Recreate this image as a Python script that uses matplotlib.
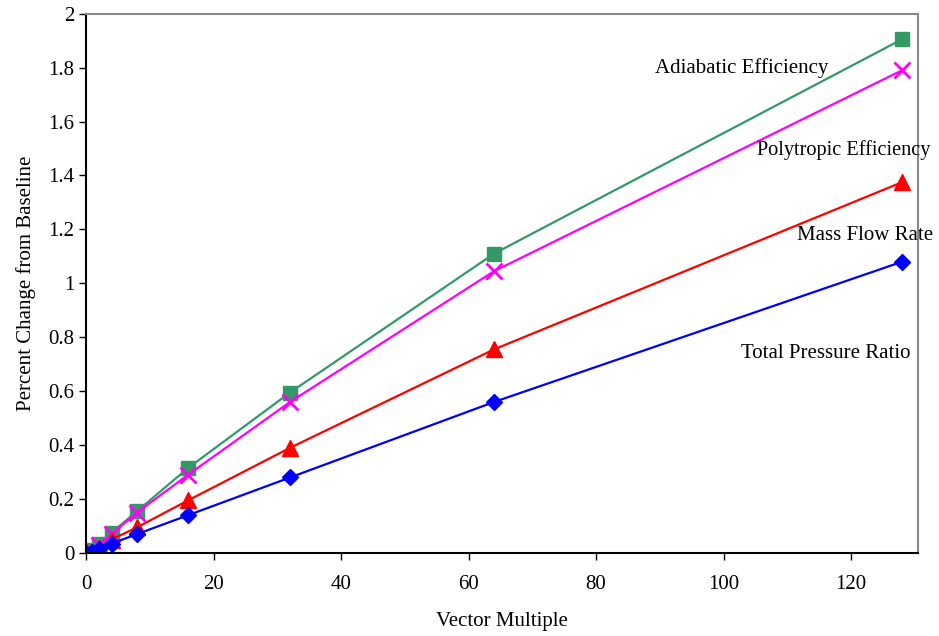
import matplotlib
matplotlib.use("Agg")
import matplotlib.pyplot as plt
from matplotlib.ticker import FuncFormatter

# vector multiples and percent change for each quantity
vector_multiple = [0, 1, 2, 4, 8, 16, 32, 64, 128]
adiabatic_eff = [0, 0.012, 0.035, 0.075, 0.155, 0.315, 0.595, 1.11, 1.905]
polytropic_eff = [0, 0.01, 0.03, 0.07, 0.15, 0.29, 0.56, 1.045, 1.79]
mass_flow = [0, 0.005, 0.02, 0.05, 0.095, 0.195, 0.39, 0.755, 1.375]
total_pressure = [0, 0.005, 0.015, 0.035, 0.07, 0.14, 0.28, 0.56, 1.08]

plt.rcParams['font.family'] = ['Liberation Serif', 'DejaVu Serif']

fig = plt.figure(figsize=(9.39, 6.36), dpi=100)
ax = fig.add_axes([0.0916, 0.1305, 0.886, 0.848])

ax.plot(vector_multiple, adiabatic_eff, color='#339966', marker='s', markersize=10, lw=1.6)
ax.plot(vector_multiple, polytropic_eff, color='#FF00FF', marker='x', markersize=12, mew=2, lw=1.6)
ax.plot(vector_multiple, mass_flow, color='#FF0000', marker='^', markersize=11, lw=1.6)
ax.plot(vector_multiple, total_pressure, color='#0000FF', marker='D', markersize=8.5, lw=1.6)

fs = 15
ax.text(102.8, 1.8, 'Adiabatic Efficiency', fontsize=fs, ha='center', va='center')
ax.text(105.2, 1.496, 'Polytropic Efficiency', fontsize=14.6, ha='left', va='center', clip_on=False)
ax.text(111.6, 1.178, 'Mass Flow Rate', fontsize=fs, ha='left', va='center', clip_on=False)
ax.text(102.7, 0.74, 'Total Pressure Ratio', fontsize=fs, ha='left', va='center')

ax.set_xlim(0, 130.5)
ax.set_ylim(0, 2)
ax.set_xticks(range(0, 121, 20))
ax.set_yticks([i * 0.2 for i in range(11)])
ax.yaxis.set_major_formatter(FuncFormatter(lambda v, p: '%g' % round(v, 1)))
ax.tick_params(labelsize=fs, length=5, direction='out', colors='black', width=1)
ax.tick_params(axis='x', pad=11)

ax.spines['top'].set_color('#888888')
ax.spines['right'].set_color('#888888')
for s in ax.spines.values():
    s.set_linewidth(1.5)

ax.set_xlabel('Vector Multiple', fontsize=fs, labelpad=13)
ax.set_ylabel('Percent Change from Baseline', fontsize=fs, labelpad=9)

fig.savefig('out.png', dpi=100)
